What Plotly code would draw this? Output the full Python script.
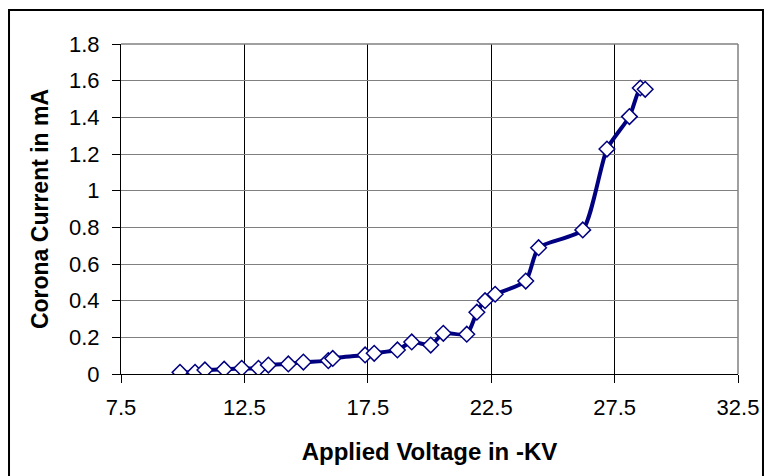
import plotly.graph_objects as go

voltage_kv = [9.89, 10.5, 10.9, 11.68, 12.39, 13.07, 13.47, 14.28, 14.89, 15.9, 16.08,
              17.39, 17.76, 18.7, 19.28, 20.05, 20.56, 21.51, 21.92, 22.25, 22.66,
              23.9, 24.42, 26.21, 27.19, 28.1, 28.54, 28.74]
current_ma = [0.009, 0.009, 0.022, 0.026, 0.031, 0.031, 0.049, 0.055, 0.065, 0.073, 0.085,
              0.104, 0.113, 0.131, 0.175, 0.158, 0.222, 0.217, 0.337, 0.40, 0.435,
              0.507, 0.689, 0.786, 1.227, 1.404, 1.56, 1.553]

x_ticks = [7.5, 12.5, 17.5, 22.5, 27.5, 32.5]
x_tick_labels = ["7.5", "12.5", "17.5", "22.5", "27.5", "32.5"]
y_ticks = [0, 0.2, 0.4, 0.6, 0.8, 1.0, 1.2, 1.4, 1.6, 1.8]
y_tick_labels = ["0", "0.2", "0.4", "0.6", "0.8", "1", "1.2", "1.4", "1.6", "1.8"]

NAVY = "#000080"
FONT = "Liberation Sans, Arial, sans-serif"

fig = go.Figure()
fig.add_trace(go.Scatter(
    x=voltage_kv, y=current_ma, mode="lines+markers",
    line=dict(color=NAVY, width=4, shape="spline", smoothing=0.6),
    marker=dict(symbol="diamond", size=12, color="white",
                line=dict(color=NAVY, width=1.5)),
    showlegend=False,
))

fig.update_layout(
    width=764, height=476,
    margin=dict(l=121, r=26, t=44, b=102),
    paper_bgcolor="white", plot_bgcolor="white",
    font=dict(family=FONT, color="black", size=22),
    xaxis=dict(
        range=[7.5, 32.5], tickmode="array", tickvals=x_ticks, ticktext=x_tick_labels,
        showgrid=True, gridcolor="black", gridwidth=1,
        showline=True, linecolor="black", linewidth=1,
        ticks="outside", ticklen=8, tickcolor="black", ticklabelstandoff=6,
        zeroline=False, automargin=False,
        title=dict(text="<b>Applied Voltage in -KV</b>", standoff=23,
                   font=dict(size=24, family=FONT)),
    ),
    yaxis=dict(
        range=[0, 1.8], tickmode="array", tickvals=y_ticks, ticktext=y_tick_labels,
        showgrid=True, gridcolor="#808080", gridwidth=1,
        showline=True, linecolor="black", linewidth=1,
        ticks="outside", ticklen=8, tickcolor="black", ticklabelstandoff=8,
        zeroline=False, automargin=False,
        title=dict(text="<b>Corona Current in mA</b>", standoff=13,
                   font=dict(size=23, family=FONT)),
    ),
    shapes=[
        dict(type="line", xref="paper", yref="paper", x0=0, x1=1, y0=1, y1=1,
             line=dict(color="#808080", width=1.5), layer="above"),
        dict(type="line", xref="paper", yref="paper", x0=1, x1=1, y0=0, y1=1,
             line=dict(color="#808080", width=1.5), layer="above"),
        dict(type="rect", xref="paper", yref="paper", x0=-0.1815, x1=1.0405,
             y0=-0.33, y1=1.103, line=dict(color="black", width=2),
             fillcolor="rgba(0,0,0,0)", layer="above"),
    ],
)

fig.write_html(
    "out.html",
    config={"displayModeBar": False},
    post_script="document.body.style.margin='0';document.body.style.overflow='hidden';",
)
